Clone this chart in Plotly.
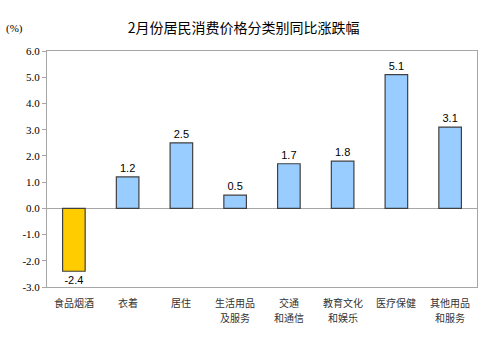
import plotly.graph_objects as go

categories = ["食品烟酒", "衣着", "居住", "生活用品<br>及服务", "交通<br>和通信", "教育文化<br>和娱乐", "医疗保健", "其他用品<br>和服务"]
values = [-2.4, 1.2, 2.5, 0.5, 1.7, 1.8, 5.1, 3.1]
tick_vals = [-3, -2, -1, 0, 1, 2, 3, 4, 5, 6]
tick_text = ["-3.0", "-2.0", "-1.0", "0.0", "1.0", "2.0", "3.0", "4.0", "5.0", "6.0"]

colors = ["#FFCC00" if v < 0 else "#99CCFF" for v in values]
labels = [f"{v:.1f}" for v in values]

fig = go.Figure()
fig.add_trace(go.Bar(
    x=categories, y=values,
    marker=dict(color=colors, line=dict(color="#404040", width=1.2)),
    width=0.42,
    text=labels, textposition="outside",
    textfont=dict(family="Liberation Sans, Arial", size=11, color="#000000"),
    cliponaxis=False,
))

# category labels, one annotation per line
annotations = []
for cat in categories:
    for i, line in enumerate(cat.split("<br>")):
        annotations.append(dict(
            text=line, x=cat, xref="x", y=-0.064 - 0.064 * i, yref="paper",
            xanchor="center", yanchor="middle", showarrow=False,
            font=dict(family="Noto Sans CJK SC", size=10, color="#333333")))

annotations.append(dict(text="(%)", xref="paper", yref="paper", x=-0.075, y=1.095,
                        xanchor="center", yanchor="middle", showarrow=False,
                        font=dict(family="Liberation Serif", size=11, color="#000000")))

fig.update_layout(
    width=497, height=345,
    margin=dict(l=47, r=20, t=51, b=58),
    paper_bgcolor="white", plot_bgcolor="white",
    showlegend=False,
    title=dict(text="2月份居民消费价格分类别同比涨跌幅", x=0.49, xanchor="center", y=0.92, yanchor="middle",
               font=dict(family="Noto Sans CJK SC", size=14, color="#000000")),
    xaxis=dict(showline=True, linecolor="#A6A6A6", linewidth=1, mirror=True,
               ticks="", showgrid=False, showticklabels=False),
    yaxis=dict(range=[-3, 6], tickvals=tick_vals, ticktext=tick_text,
               showline=True, linecolor="#A6A6A6", linewidth=1, mirror=True,
               ticks="outside", ticklen=4, tickcolor="#A6A6A6",
               showgrid=False, zeroline=True, zerolinecolor="#A6A6A6", zerolinewidth=1,
               tickfont=dict(family="Liberation Serif", size=11, color="#000000")),
    annotations=annotations,
)

fig.write_html("out.html")
